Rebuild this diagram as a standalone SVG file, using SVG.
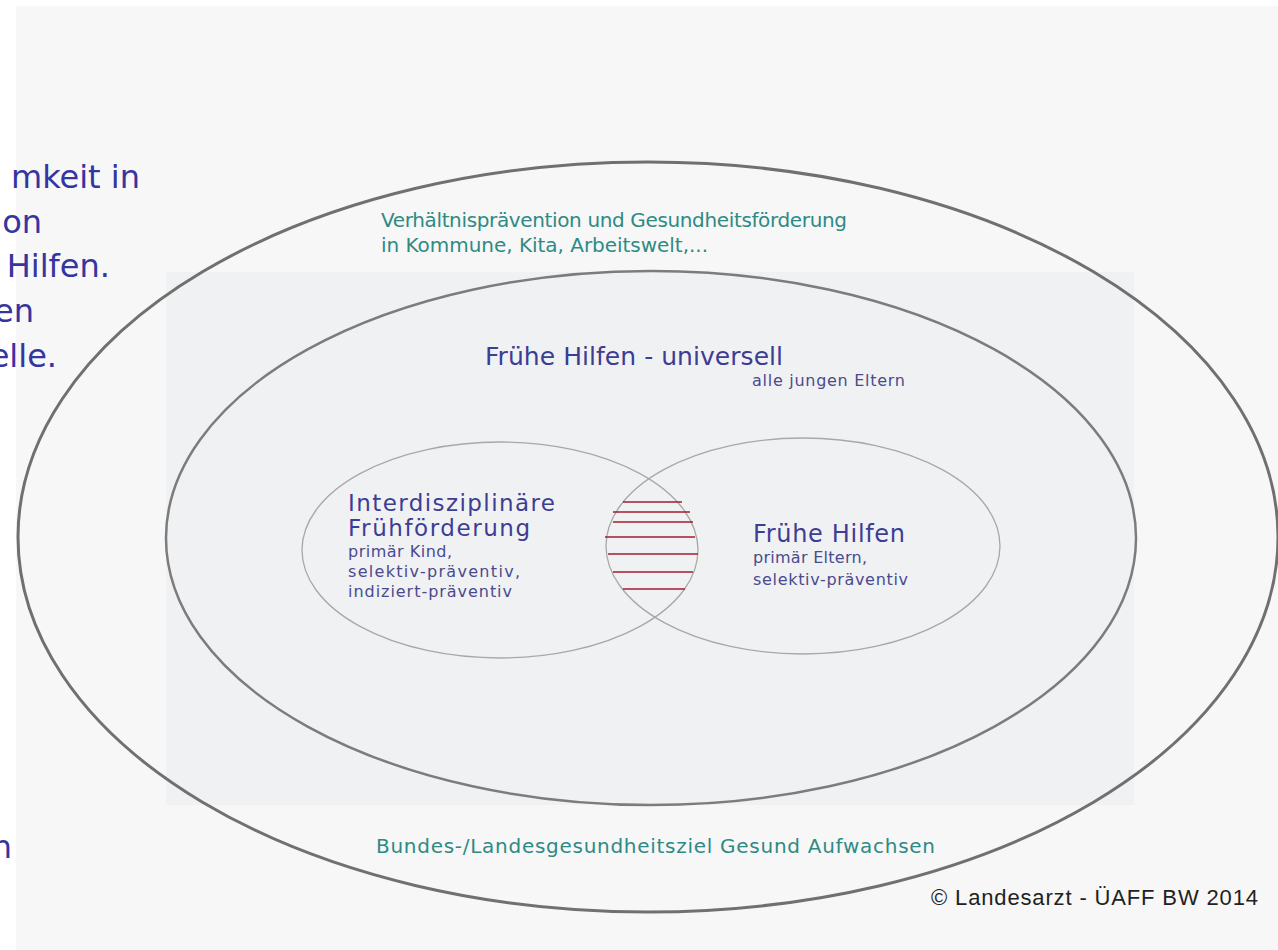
<svg xmlns="http://www.w3.org/2000/svg" width="1278" height="950" viewBox="0 0 1278 950">
<style>
.side{font-family:"DejaVu Sans","Verdana",sans-serif;font-size:32px;fill:#3535a0;text-anchor:end}
.teal{font-family:"DejaVu Sans","Verdana",sans-serif;font-size:20px;fill:#2e8a84}
.head{font-family:"DejaVu Sans","Verdana",sans-serif;fill:#3d3d94}
.small{font-family:"DejaVu Sans","Verdana",sans-serif;font-size:16px;fill:#4a4a8e}
.copy{font-family:"Liberation Sans","Arial",sans-serif;font-size:22px;fill:#222}
.hatch{stroke:#a21b31;stroke-width:1.6}
</style>
<rect x="0" y="0" width="1278" height="950" fill="#ffffff"/>
<rect x="16" y="6" width="1262" height="944" fill="#f7f7f7"/>
<rect x="166" y="272" width="968" height="533" fill="#f0f1f3"/>

<g id="side-text">
<text class="side" x="140" y="188">mkeit in</text>
<text class="side" x="42" y="233">on</text>
<text class="side" x="110" y="277">Hilfen.</text>
<text class="side" x="34" y="322">en</text>
<text class="side" x="57" y="367">elle.</text>
<text class="side" x="12" y="858">n</text>
</g>

<g id="outer">
<ellipse cx="648" cy="537" rx="630" ry="375" fill="none" stroke="#707070" stroke-width="3"/>
<text class="teal" x="381" y="227" textLength="466" lengthAdjust="spacing">Verhältnisprävention und Gesundheitsförderung</text>
<text class="teal" x="381" y="252" textLength="327" lengthAdjust="spacing">in Kommune, Kita, Arbeitswelt,...</text>
<text class="teal" x="376" y="853" textLength="559" lengthAdjust="spacing">Bundes-/Landesgesundheitsziel Gesund Aufwachsen</text>
</g>

<g id="universell">
<ellipse cx="651" cy="538" rx="485" ry="267" fill="none" stroke="#7c7c7c" stroke-width="2.5"/>
<text class="head" x="485" y="365" font-size="25" textLength="298" lengthAdjust="spacing">Frühe Hilfen - universell</text>
<text class="small" x="752" y="386" textLength="153" lengthAdjust="spacing">alle jungen Eltern</text>
</g>

<g id="fruehfoerderung">
<ellipse cx="500" cy="550" rx="198" ry="108" fill="none" stroke="#a8a8a8" stroke-width="1.3"/>
<text class="head" x="348" y="511" font-size="23" textLength="207" lengthAdjust="spacing">Interdisziplinäre</text>
<text class="head" x="348" y="536" font-size="23" textLength="182" lengthAdjust="spacing">Frühförderung</text>
<text class="small" x="348" y="557" textLength="104" lengthAdjust="spacing">primär  Kind,</text>
<text class="small" x="348" y="577" textLength="172" lengthAdjust="spacing">selektiv-präventiv,</text>
<text class="small" x="348" y="597" textLength="164" lengthAdjust="spacing">indiziert-präventiv</text>
</g>

<g id="fruehe-hilfen">
<ellipse cx="803" cy="546" rx="197" ry="108" fill="none" stroke="#a8a8a8" stroke-width="1.3"/>
<text class="head" x="753" y="542" font-size="24" textLength="152" lengthAdjust="spacing">Frühe Hilfen</text>
<text class="small" x="753" y="563" textLength="114" lengthAdjust="spacing">primär  Eltern,</text>
<text class="small" x="753" y="585" textLength="155" lengthAdjust="spacing">selektiv-präventiv</text>
</g>

<g id="overlap">
<line class="hatch" x1="623" y1="502" x2="682" y2="502"/>
<line class="hatch" x1="613" y1="512" x2="690" y2="512"/>
<line class="hatch" x1="613" y1="522" x2="693" y2="522"/>
<line class="hatch" x1="605" y1="537" x2="695" y2="537"/>
<line class="hatch" x1="608" y1="554" x2="698" y2="554"/>
<line class="hatch" x1="613" y1="572" x2="693" y2="572"/>
<line class="hatch" x1="623" y1="589" x2="685" y2="589"/>
</g>

<g id="copyright">
<text class="copy" x="931" y="905" textLength="327" lengthAdjust="spacing">© Landesarzt - ÜAFF BW 2014</text>
</g>
</svg>
